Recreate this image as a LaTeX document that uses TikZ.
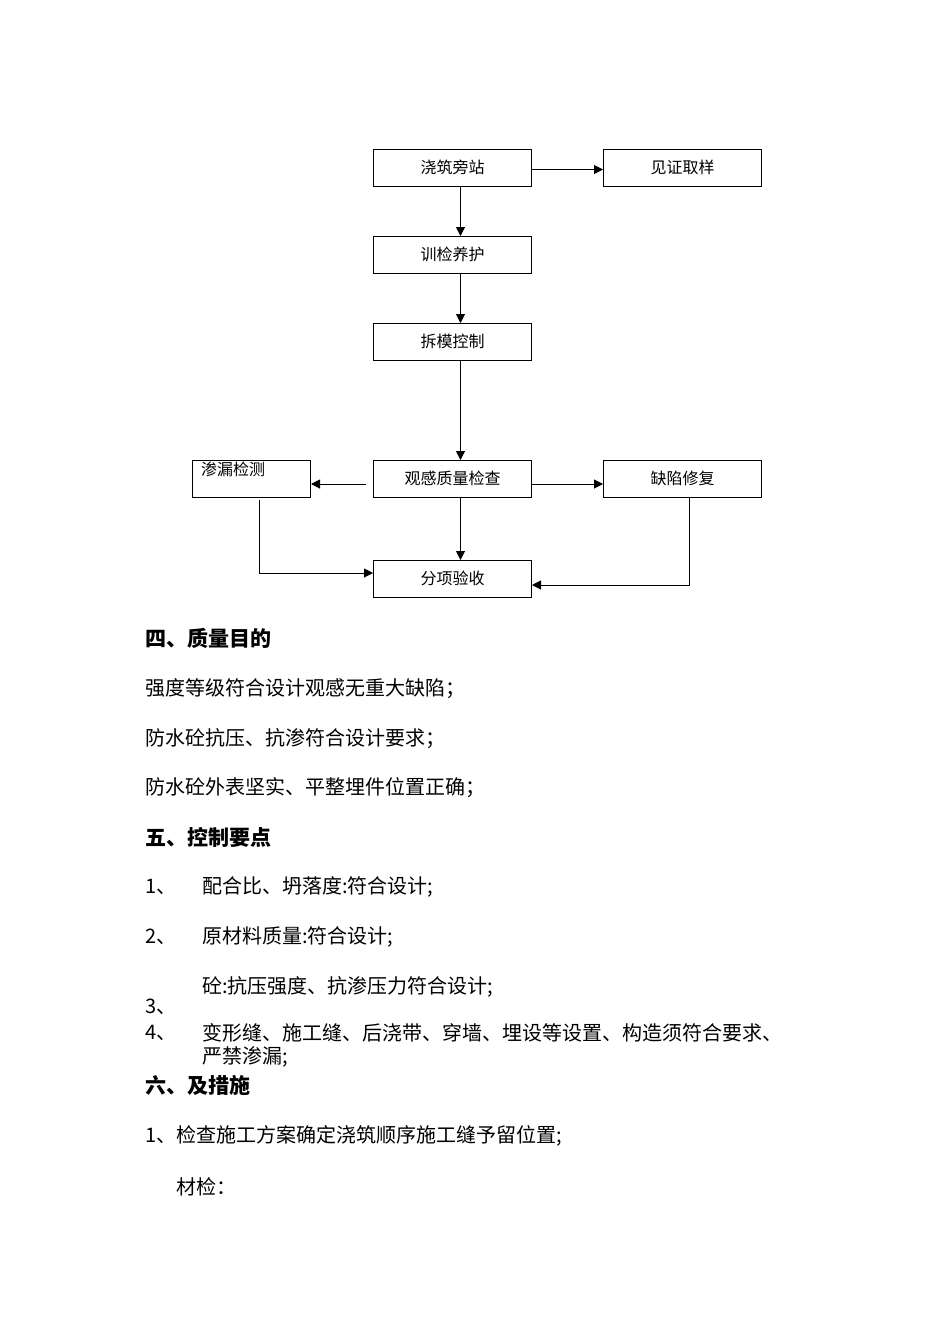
\documentclass[tikz,border=0pt]{standalone}
\usepackage{fontspec}
\setmainfont{Liberation Serif}
\newfontfamily\cjk{Noto Sans CJK SC}
\usetikzlibrary{arrows.meta}
\begin{document}
\begin{tikzpicture}[x=1pt,y=-1pt,
  box/.style={draw, line width=1pt, minimum width=158pt, minimum height=37pt, inner sep=0pt, anchor=north west, font=\cjk\fontsize{16pt}{16pt}\selectfont},
  arr/.style={-{Triangle[length=9pt,width=9pt]}, line width=1pt},
  txt/.style={anchor=west, inner sep=0pt, font=\cjk\fontsize{20pt}{20pt}\selectfont},
  hd/.style={anchor=west, inner sep=0pt, font=\cjk\bfseries\fontsize{21pt}{21pt}\selectfont}]
\useasboundingbox (0,0) rectangle (950,1344);
\fill[white] (0,0) rectangle (950,1344);
% boxes
\node[box] (jz) at (373,149) {\raisebox{3pt}{浇筑旁站}};
\node[box] (jzqy) at (603,149) {\raisebox{3pt}{见证取样}};
\node[box] (xj) at (373,236) {\raisebox{3pt}{训检养护}};
\node[box] (cm) at (373,323) {\raisebox{3pt}{拆模控制}};
\node[box] (gg) at (373,460) {\raisebox{3pt}{观感质量检查}};
\node[box] (qx) at (603,460) {\raisebox{3pt}{缺陷修复}};
\node[box, minimum width=118pt] (sl) at (192,460) {};
\node[anchor=west, inner sep=0pt, font=\cjk\fontsize{16pt}{16pt}\selectfont] (slt) at (201,469) {渗漏检测};
\node[box] (fx) at (373,560) {\raisebox{3pt}{分项验收}};
% connectors
\draw[arr] ([yshift=-1.5pt]jz.east) -- ([yshift=-1.5pt]jzqy.west);
\draw[arr] ([xshift=8pt]jz.south) -- ([xshift=8pt]xj.north);
\draw[arr] ([xshift=8pt]xj.south) -- ([xshift=8pt]cm.north);
\draw[arr] ([xshift=8pt]cm.south) -- ([xshift=8pt]gg.north);
\coordinate (gl) at (366,484);
\draw[arr] (gl) -- (gl -| sl.east);
\draw[arr] (gg.east |- gl) -- (qx.west |- gl);
\draw[arr] ([xshift=8pt]gg.south) -- ([xshift=8pt]fx.north);
\coordinate (sld) at (259,500);
\draw[arr] (sld) |- ([yshift=6pt]fx.west);
\draw[arr] ([xshift=7pt]qx.south) |- ([yshift=-6pt]fx.east);
% text
\node[hd] (h4) at (145,638) {四、质量目的};
\node[txt] (t1) at (145,689) {强度等级符合设计观感无重大缺陷；};
\node[txt] (t2) at (145,739) {防水砼抗压、抗渗符合设计要求；};
\node[txt] (t3) at (145,788) {防水砼外表坚实、平整埋件位置正确；};
\node[hd] (h5) at (145,837) {五、控制要点};
\node[txt] (n1) at (145,887) {1、};
\node[txt] (p1) at (202,887) {配合比、坍落度:符合设计;};
\node[txt] (n2) at (145,937) {2、};
\node[txt] (p2) at (202,937) {原材料质量:符合设计;};
\node[txt] (p3) at (202,987) {砼:抗压强度、抗渗压力符合设计;};
\node[txt] (n3) at (145,1007) {3、};
\node[txt] (n4) at (145,1033) {4、};
\node[txt] (p4) at (202,1033) {变形缝、施工缝、后浇带、穿墙、埋设等设置、构造须符合要求、};
\node[txt] (p4b) at (202,1057) {严禁渗漏;};
\node[hd] (h6) at (145,1085) {六、及措施};
\node[txt] (s1) at (145,1136) {1、检查施工方案确定浇筑顺序施工缝予留位置;};
\node[txt] (s2) at (176,1187) {材检：};
\end{tikzpicture}
\end{document}
